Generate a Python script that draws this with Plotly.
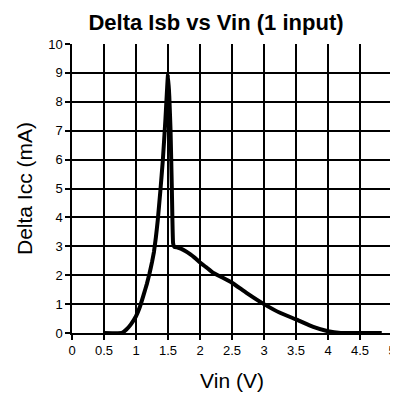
import plotly.graph_objects as go

vin = [0.5, 0.78, 0.85, 0.92, 1.0, 1.06, 1.12, 1.17, 1.21, 1.25, 1.28, 1.31, 1.34, 1.38, 1.42, 1.46, 1.5,
       1.52, 1.54, 1.56, 1.58, 1.6, 1.65, 1.7, 1.77, 1.845, 1.92, 2.0, 2.1, 2.2, 2.35, 2.5, 2.72, 3.0, 3.25, 3.5,
       3.77, 4.0, 4.2, 4.5, 4.84]
dicc = [0.0, 0.0, 0.12, 0.3, 0.58, 0.9, 1.33, 1.7, 2.05, 2.45, 2.8, 3.3, 3.9, 4.9, 6.0, 7.4, 8.95,
        8.2, 7.0, 5.0, 3.1, 2.98, 2.96, 2.92, 2.84, 2.73, 2.6, 2.44, 2.27, 2.09, 1.92, 1.74, 1.4, 1.0, 0.7, 0.47,
        0.21, 0.06, 0.0, 0.0, 0.0]

x_ticks = [0, 0.5, 1, 1.5, 2, 2.5, 3, 3.5, 4, 4.5, 5]
x_tick_labels = ["0", "0.5", "1", "1.5", "2", "2.5", "3", "3.5", "4", "4.5", "5"]
y_ticks = list(range(0, 11))

fig = go.Figure()
fig.add_trace(go.Scatter(x=vin, y=dicc, mode="lines",
                         line=dict(color="black", width=4, shape="spline", smoothing=0.3),
                         showlegend=False, hoverinfo="skip", cliponaxis=False))

# page body has an 8px default margin; figure is sized to fill the rest
W, H = 390, 386
font = "Liberation Sans, Arial, sans-serif"
fig.update_layout(
    width=W, height=H,
    margin=dict(l=64, r=6, t=36, b=61),
    paper_bgcolor="white", plot_bgcolor="white",
    font=dict(family=font, color="black", size=13),
    title=dict(text="<b>Delta Isb vs Vin (1 input)</b>", x=208/W, xanchor="center",
               y=1-14/H, yanchor="middle", font=dict(size=22, family=font, color="black")),
)
fig.update_xaxes(range=[0, 5], tickvals=x_ticks, ticktext=x_tick_labels,
                 showgrid=True, gridcolor="black", gridwidth=1.5,
                 showline=True, linecolor="black", linewidth=1.5, mirror=False,
                 ticks="outside", ticklen=5, tickcolor="black", tickwidth=1.5,
                 zeroline=False, tickfont=dict(size=13), automargin=False,
                 title=dict(text="Vin (V)", font=dict(size=21), standoff=16))
fig.update_yaxes(range=[0, 10], tickvals=y_ticks,
                 showgrid=True, gridcolor="black", gridwidth=1.5,
                 showline=True, linecolor="black", linewidth=1.5,
                 ticks="outside", ticklen=5, tickcolor="black", tickwidth=1.5,
                 zeroline=False, tickfont=dict(size=13), automargin=False,
                 title=dict(text="Delta Icc (mA)", font=dict(size=21), standoff=10))

fig.write_html("out.html")
